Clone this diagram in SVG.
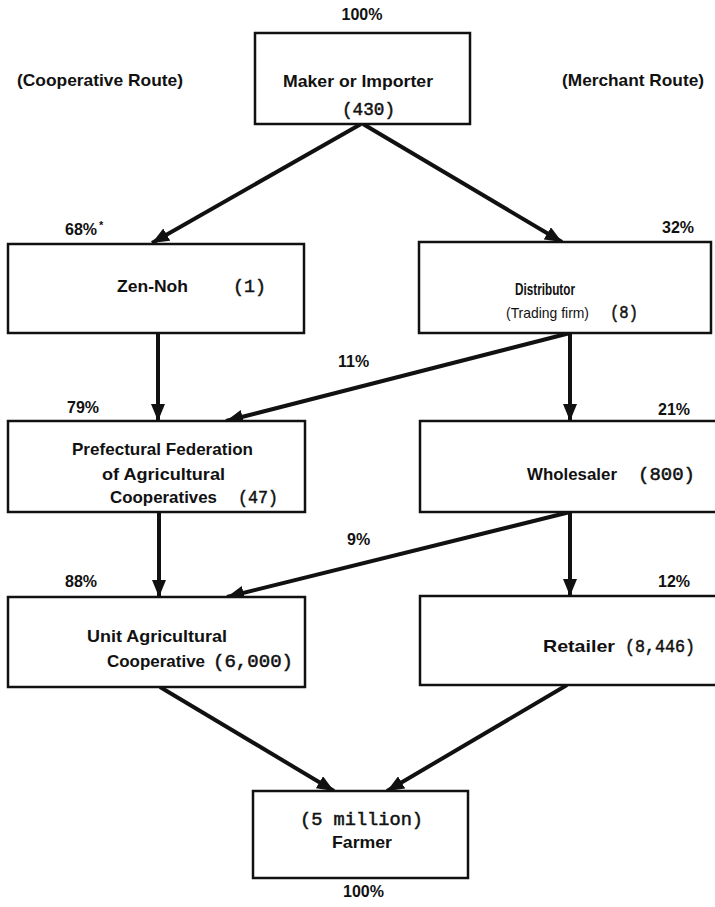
<svg xmlns="http://www.w3.org/2000/svg" width="715" height="907" viewBox="0 0 715 907">
  <style>
    .box { fill: #ffffff; stroke: #111111; stroke-width: 2.5; }
    .lbl { font-family: "Liberation Sans", Arial, sans-serif; font-weight: bold; font-size: 17px; fill: #111111; }
    .sm { font-family: "Liberation Sans", Arial, sans-serif; font-size: 15px; fill: #111111; }
    .pct { font-family: "Liberation Sans", Arial, sans-serif; font-weight: bold; font-size: 16px; fill: #111111; }
    .num { font-family: "Liberation Mono", "Courier New", monospace; font-size: 18px; fill: #111111; stroke: #111111; stroke-width: 0.5; }
    .arrow { stroke: #111111; stroke-width: 4; fill: none; marker-end: url(#head); }
  </style>
  <defs>
    <marker id="head" markerUnits="userSpaceOnUse" markerWidth="18" markerHeight="14" refX="17" refY="7" orient="auto">
      <path d="M0,0 L17,7 L0,14 z" fill="#111111"/>
    </marker>
  </defs>

  <rect width="715" height="907" fill="#ffffff"/>

  <!-- route headings and share figures -->
  <g id="headings">
    <text class="lbl" x="17" y="86" textLength="166" lengthAdjust="spacingAndGlyphs">(Cooperative Route)</text>
    <text class="lbl" x="562" y="86" textLength="142" lengthAdjust="spacingAndGlyphs">(Merchant Route)</text>
    <text class="pct" x="362" y="20" text-anchor="middle">100%</text>
    <text class="pct" x="65" y="235">68%</text>
    <text class="pct" x="99" y="229" style="font-size:11px">*</text>
    <text class="pct" x="662" y="233">32%</text>
    <text class="pct" x="67" y="413">79%</text>
    <text class="pct" x="658" y="415">21%</text>
    <text class="pct" x="338" y="367">11%</text>
    <text class="pct" x="65" y="587">88%</text>
    <text class="pct" x="658" y="587">12%</text>
    <text class="pct" x="347" y="545">9%</text>
    <text class="pct" x="343" y="897">100%</text>
  </g>

  <!-- connectors -->
  <g id="connectors">
    <line class="arrow" x1="361" y1="124" x2="152" y2="243"/>
    <line class="arrow" x1="363" y1="124" x2="562" y2="242"/>
    <line class="arrow" x1="158" y1="333" x2="158" y2="421"/>
    <line class="arrow" x1="570" y1="333" x2="226" y2="421"/>
    <line class="arrow" x1="570" y1="333" x2="570" y2="421"/>
    <line class="arrow" x1="159" y1="512" x2="159" y2="597"/>
    <line class="arrow" x1="570" y1="512" x2="227" y2="597"/>
    <line class="arrow" x1="570" y1="512" x2="570" y2="596"/>
    <line class="arrow" x1="160" y1="687" x2="334" y2="791"/>
    <line class="arrow" x1="567" y1="685" x2="387" y2="791"/>
  </g>

  <g id="maker">
    <rect class="box" x="255" y="33" width="215" height="91"/>
    <text class="lbl" x="358" y="87" text-anchor="middle" textLength="150" lengthAdjust="spacingAndGlyphs">Maker or Importer</text>
    <text class="num" x="342" y="115" textLength="53" lengthAdjust="spacingAndGlyphs">(430)</text>
  </g>

  <g id="zen-noh">
    <rect class="box" x="8" y="244" width="296" height="89"/>
    <text class="lbl" x="117" y="292" textLength="71" lengthAdjust="spacingAndGlyphs">Zen-Noh</text>
    <text class="num" x="233" y="292" textLength="33" lengthAdjust="spacingAndGlyphs">(1)</text>
  </g>

  <g id="distributor">
    <rect class="box" x="419" y="242" width="292" height="91"/>
    <text class="lbl" x="515" y="295" style="font-size:16px" textLength="60" lengthAdjust="spacingAndGlyphs">Distributor</text>
    <text class="sm" x="506" y="318" textLength="83" lengthAdjust="spacingAndGlyphs">(Trading firm)</text>
    <text class="num" x="610" y="318" textLength="28" lengthAdjust="spacingAndGlyphs">(8)</text>
  </g>

  <g id="prefectural">
    <rect class="box" x="8" y="421" width="297" height="91"/>
    <text class="lbl" x="72" y="455" textLength="181" lengthAdjust="spacingAndGlyphs">Prefectural Federation</text>
    <text class="lbl" x="102" y="480" textLength="123" lengthAdjust="spacingAndGlyphs">of Agricultural</text>
    <text class="lbl" x="110" y="503" textLength="107" lengthAdjust="spacingAndGlyphs">Cooperatives</text>
    <text class="num" x="238" y="503" textLength="40" lengthAdjust="spacingAndGlyphs">(47)</text>
  </g>

  <g id="wholesaler">
    <rect class="box" x="420" y="421" width="300" height="91"/>
    <text class="lbl" x="527" y="480" textLength="90" lengthAdjust="spacingAndGlyphs">Wholesaler</text>
    <text class="num" x="638" y="480" textLength="57" lengthAdjust="spacingAndGlyphs">(800)</text>
  </g>

  <g id="unit-coop">
    <rect class="box" x="8" y="597" width="297" height="90"/>
    <text class="lbl" x="87" y="642" textLength="140" lengthAdjust="spacingAndGlyphs">Unit Agricultural</text>
    <text class="lbl" x="107" y="667" textLength="98" lengthAdjust="spacingAndGlyphs">Cooperative</text>
    <text class="num" x="213" y="667" textLength="80" lengthAdjust="spacingAndGlyphs">(6,000)</text>
  </g>

  <g id="retailer">
    <rect class="box" x="420" y="596" width="300" height="89"/>
    <text class="lbl" x="543" y="652" textLength="72" lengthAdjust="spacingAndGlyphs">Retailer</text>
    <text class="num" x="625" y="652" textLength="70" lengthAdjust="spacingAndGlyphs">(8,446)</text>
  </g>

  <g id="farmer">
    <rect class="box" x="253" y="791" width="215" height="87"/>
    <text class="num" x="300" y="825" textLength="123" lengthAdjust="spacingAndGlyphs">(5 million)</text>
    <text class="lbl" x="332" y="848" textLength="60" lengthAdjust="spacingAndGlyphs">Farmer</text>
  </g>
</svg>
